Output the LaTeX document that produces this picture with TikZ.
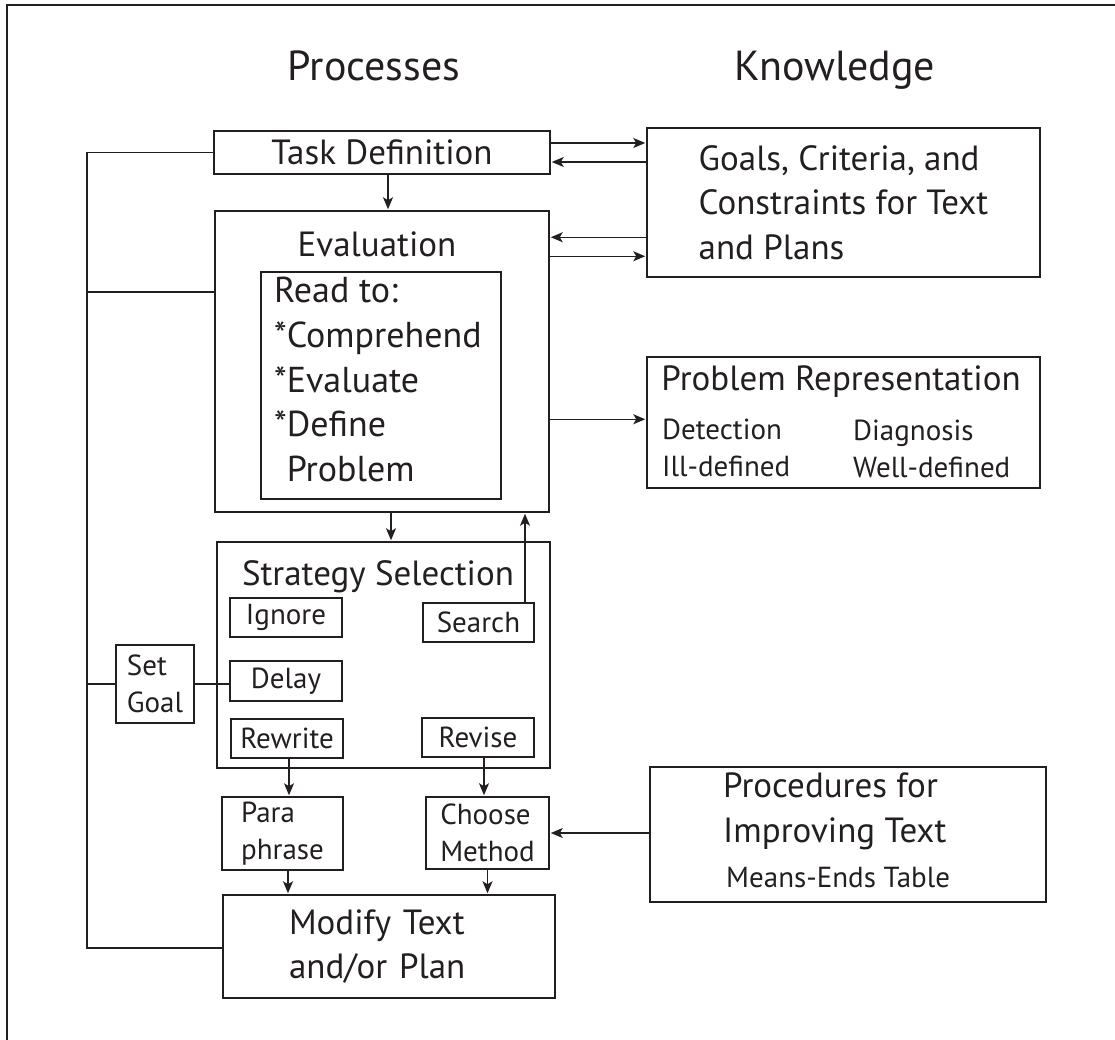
\documentclass[tikz,border=0pt]{standalone}
\usepackage{fontspec}
\setmainfont{PT Sans}
\usetikzlibrary{arrows.meta}

\definecolor{ink}{HTML}{231F20}
\newcommand{\fTitle}{\fontsize{42}{50}\selectfont}
\newcommand{\fMain}{\fontsize{35}{44.5}\selectfont}
\newcommand{\fSmall}{\fontsize{29}{36.5}\selectfont}

\tikzset{
    box/.style={draw=ink, line width=1.5pt, inner sep=0pt, text=ink},
    smallbox/.style={box, font=\fSmall, minimum width=112, minimum height=39},
    link/.style={draw=ink, line width=1.4pt},
    arr/.style={link, shorten >=1pt, -{Stealth[length=12pt,width=10pt,inset=3pt]}},
    label/.style={text=ink, inner sep=0pt},
}

\begin{document}
\begin{tikzpicture}[x=1pt, y=-1pt]
    \useasboundingbox (0,0) rectangle (1115,1040);

    % Frame
    \draw[link] (7,1040) -- (7,5) -- (1115,5);

    % Column titles
    \node[label, font=\fTitle, anchor=base] (proctitle) at (374,81) {Processes};
    \node[label, font=\fTitle, anchor=base] (knowtitle) at (835,81) {Knowledge};

    % Processes
    \node[box, font=\fMain, minimum width=336, minimum height=43] (task) at (382,152.5) {Task Definition};

    \node[box, minimum width=334, minimum height=301] (eval) at (382,361.5) {};
    \node[label, font=\fMain, anchor=base] (evaltitle) at (377,257) {Evaluation};
    \node[box, minimum width=240, minimum height=227] (read) at (381,385.5) {};
    \node[label, font={\fontsize{36}{44.7}\selectfont}, align=left, anchor=north west] (readtext) at (274,277)
        {Read to:\\*Comprehend\\*Evaluate\\*Define\\\phantom{*}Problem};

    \node[box, minimum width=333, minimum height=226] (strat) at (383.5,655) {};
    \node[label, font=\fMain, anchor=base] (strattitle) at (378,585) {Strategy Selection};
    \node[smallbox] (ignore) at (286,617.5) {Ignore};
    \node[smallbox, minimum width=111] (search) at (478.5,622.5) {Search};
    \node[smallbox, minimum height=40] (delay) at (286,681) {Delay};
    \node[smallbox] (rewrite) at (287,738.5) {Rewrite};
    \node[smallbox] (revise) at (478,737.5) {Revise};

    \node[box, font=\fSmall, align=left, minimum width=78, minimum height=78] (setgoal) at (155,684) {Set\\Goal};

    \node[box, font=\fSmall, align=left, minimum width=121, minimum height=73] (para) at (282.5,833.5) {Para\\phrase};
    \node[box, font=\fSmall, align=left, minimum width=123, minimum height=72] (choose) at (487.5,833) {Choose\\Method};

    \node[box, font=\fMain, align=left, text width=200, inner xsep=66, minimum height=103] (modify) at (389,946.5) {Modify Text\\and/or Plan};

    % Knowledge
    \node[box, font=\fMain, align=left, minimum width=393, minimum height=149] (goals) at (843.5,202.5)
        {Goals, Criteria, and\\Constraints for Text\\and Plans};

    \node[box, minimum width=393, minimum height=131] (probrep) at (843.5,422.5) {};
    \node[label, font=\fMain, anchor=base] (prtitle) at (841,390) {Problem Representation};
    \node[label, font=\fSmall, align=left, anchor=north west] (detect) at (662,419) {Detection\\Ill-defined};
    \node[label, font=\fSmall, align=left, anchor=north west] (diag) at (853,420) {Diagnosis\\Well-defined};

    \node[box, minimum width=396, minimum height=135] (proc) at (848,834.5) {};
    \node[label, font=\fMain, align=left, anchor=north west] (proctext) at (723,773) {Procedures for\\Improving Text};
    \node[label, font=\fSmall, anchor=base west] (means) at (726,887) {Means-Ends Table};

    % Feedback line on the left
    \coordinate (fbtop) at (87,152.5);
    \coordinate (fbeval) at (87,292);
    \coordinate (fbgoal) at (87,684);
    \coordinate (fbbot) at (87,948);
    \draw[link] (task.west) -- (fbtop) -- (fbbot) -- (fbbot -| modify.west);
    \draw[link] (fbeval) -- (fbeval -| eval.west);
    \draw[link] (fbgoal) -- (setgoal.west);
    \draw[link] (setgoal.east) -- (setgoal.east -| delay.west);

    % Arrows down the process column
    \draw[arr] ([xshift=6]task.south) -- ([xshift=6]task.south |- eval.north);
    \draw[arr] ([xshift=9]eval.south) -- ([xshift=9]eval.south |- strat.north);
    \draw[arr] ([xshift=46.5]search.north) -- ([xshift=46.5]search.north |- eval.south);
    \draw[arr] ([xshift=2]rewrite.south) -- ([xshift=2]rewrite.south |- para.north);
    \draw[arr] ([xshift=6]revise.south) -- ([xshift=6]revise.south |- choose.north);
    \draw[arr] ([xshift=5.5]para.south) -- ([xshift=5.5]para.south |- modify.north);
    \draw[arr] (choose.south) -- (choose.south |- modify.north);

    % Arrows to and from knowledge
    \coordinate (tg1) at ([yshift=9.5]task.east);
    \coordinate (tg2) at ([yshift=-9.5]task.east);
    \coordinate (eg1) at ([yshift=-27]eval.north east);
    \coordinate (eg2) at ([yshift=-46]eval.north east);
    \coordinate (ep) at ([yshift=-209]eval.north east);
    \draw[arr] (tg1) -- (tg1 -| goals.west);
    \draw[arr] (tg2 -| goals.west) -- (tg2);
    \draw[arr] (eg1 -| goals.west) -- (eg1);
    \draw[arr] (eg2) -- (eg2 -| goals.west);
    \draw[arr] (ep) -- (ep -| probrep.west);
    \draw[arr] (proc.west |- choose.east) -- (choose.east);
\end{tikzpicture}
\end{document}
